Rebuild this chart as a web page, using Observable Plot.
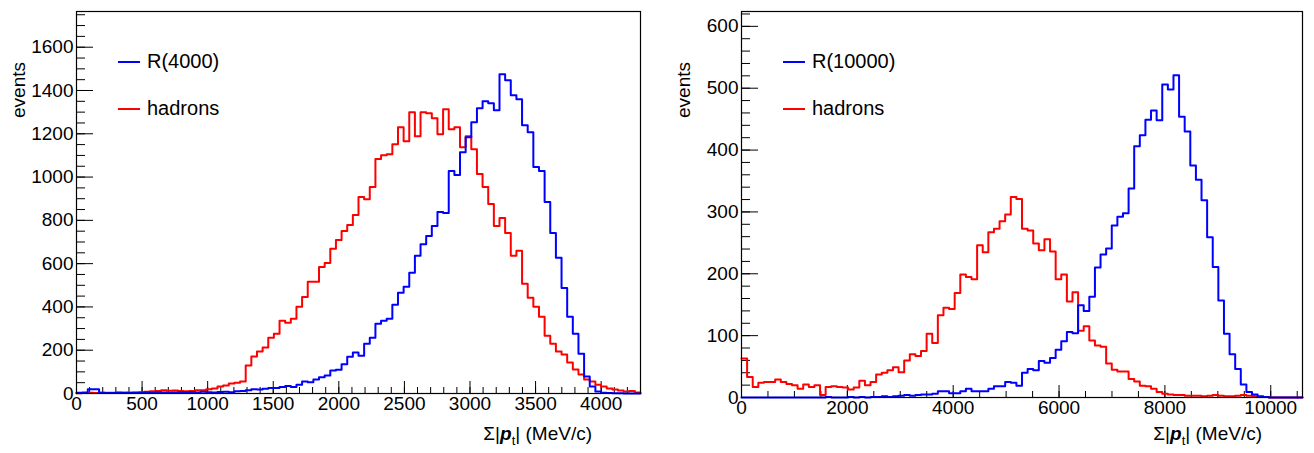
<!DOCTYPE html>
<html>
<head>
<meta charset="utf-8">
<script src="https://cdn.jsdelivr.net/npm/d3@7"></script>
<script src="https://cdn.jsdelivr.net/npm/@observablehq/plot@0.6"></script>
<style>
  body { margin: 0; background: #fff; font-family: "Liberation Sans", Arial, sans-serif; }
  #wrap { position: relative; width: 1314px; height: 453px; }
  .panel { position: absolute; top: 0; }
  .lab { position: absolute; font-size: 20px; color: #000; white-space: nowrap; }
  .leg { position: absolute; height: 2px; width: 22px; }
  .ylab { position: absolute; font-size: 19px; transform: rotate(-90deg); transform-origin: right top; white-space: nowrap; }
</style>
</head>
<body>
<div id="wrap"></div>
<script>
// left panel: 100 bins, 0..4300 MeV/c
const leftEdges = [0, 4300];
const leftR4000 = [3,5,20,20,3,2,2,3,3,2,4,3,5,4,6,5,4,5,6,6,7,5,8,6,5,7,8,6,10,12,
  15,20,18,22,25,25,30,35,30,40,55,52,65,75,83,106,110,135,
  170,189,175,230,258,322,336,345,410,465,493,558,636,690,728,774,839,834,1028,1009,1115,1184,1253,1318,1350,1341,1309,1475,1447,1378,1359,1240,1207,1046,1028,885,742,627,488,355,276,184,78,32,9,
  3,2,1,1,0,0,0];
const leftHadrons = [1,2,3,2,3,3,4,5,4,5,5,6,8,10,12,15,13,14,12,10,12,15,15,20,23,32,37,46,50,55,
  129,171,194,212,258,276,336,327,345,401,446,516,516,585,603,669,709,
  751,779,825,908,898,954,1083,1101,1106,1152,1230,1166,1300,1189,1300,1295,1272,1198,1313,1221,1230,1138,1189,1129,1014,954,876,774,811,742,636,659,507,442,401,355,267,230,194,180,143,111,88,65,55,41,32,23,18,14,9,12,5];

// right panel: 100 bins, 0..10600 MeV/c
const rightEdges = [0, 10600];
const rightR10000 = [0,0,0,0,0,0,0,0,0,0,0,0,0,0,0,1,0,0,0,1,0,1,0,1,1,2,1,2,3,
  4,3,4,5,5,6,10,10,7,7,10,14,10,10,10,14,18,
  18,25,24,19,40,46,44,59,56,64,77,91,106,104,149,140,163,210,231,241,278,292,298,338,406,424,449,464,448,506,498,521,454,430,375,352,319,259,211,157,103,70,46,21,9,5,2,
  1,0,0,0,0,0,0];
const rightHadrons = [63,33,17,24,25,25,29,25,22,20,14,21,17,20,4,17,18,17,16,13,16,27,20,25,37,40,44,49,41,60,70,67,75,103,88,133,145,143,169,199,195,191,246,235,267,273,285,296,324,321,273,
  270,249,238,256,236,191,199,155,170,108,115,92,84,82,55,45,42,42,30,26,19,18,14,9,6,
  5,4,4,3,3,3,2,3,4,3,2,2,3,4,3,2,1,1,0,0,0,0,0,0];

function steps(vals, lo, hi) {
  const w = (hi - lo) / vals.length;
  const pts = vals.map((v, i) => ({x: lo + i * w, y: v}));
  pts.push({x: hi, y: vals[vals.length - 1]});
  return pts;
}

function panel(o) {
  const [lo, hi] = o.edges;
  const none = () => "";
  return Plot.plot({
    width: o.width, height: 453,
    marginLeft: o.ml, marginRight: o.mr, marginTop: 11, marginBottom: o.mb,
    style: {fontFamily: "Liberation Sans, Arial, sans-serif", fontSize: "18px", color: "#000"},
    x: {domain: [lo, hi]},
    y: {domain: [0, o.ymax]},
    marks: [
      Plot.axisX({ticks: d3.range(lo, hi + 1, o.xminor), tickSize: -6, tickFormat: none, label: null}),
      Plot.axisX({ticks: d3.range(lo, hi + 1, o.xmajor), tickSize: -12, tickPadding: 15, tickFormat: d3.format("d"), label: null, fontSize: 19}),
      Plot.axisY({ticks: d3.range(0, o.ymax + 1, o.yminor), tickSize: -9, tickFormat: none, label: null}),
      Plot.axisY({ticks: d3.range(0, o.ymax + 1, o.ymajor), tickSize: -17, tickPadding: 20, tickFormat: d3.format("d"), label: null, fontSize: 19}),
      Plot.line(steps(o.red, lo, hi), {x: "x", y: "y", curve: "step-after", stroke: "#ff0000", strokeWidth: 2}),
      Plot.line(steps(o.blue, lo, hi), {x: "x", y: "y", curve: "step-after", stroke: "#0000ff", strokeWidth: 2}),
      Plot.frame({stroke: "#000", strokeWidth: 1.2})
    ]
  });
}

const wrap = document.getElementById("wrap");
function place(node, left) {
  node.classList.add("panel");
  node.style.left = left + "px";
  wrap.appendChild(node);
}
place(panel({width: 657, ml: 76, mr: 17, mb: 60, edges: leftEdges, ymax: 1765,
  xmajor: 500, xminor: 100, ymajor: 200, yminor: 50, blue: leftR4000, red: leftHadrons}), 0);
place(panel({width: 657, ml: 84, mr: 12, mb: 56, edges: rightEdges, ymax: 624,
  xmajor: 2000, xminor: 500, ymajor: 100, yminor: 20, blue: rightR10000, red: rightHadrons}), 657);

function addHtml(html, cls, css) {
  const d = document.createElement("div");
  d.className = cls;
  d.innerHTML = html;
  Object.assign(d.style, css);
  wrap.appendChild(d);
}
const xl = 'Σ|<b><i>p</i></b><sub style="font-size:13px">t</sub>| (MeV/c)';
addHtml(xl, "lab", {right: (1314 - 592) + "px", top: "423px", fontSize: "19px"});
addHtml(xl, "lab", {right: (1314 - 1262) + "px", top: "423px", fontSize: "19px"});
addHtml("events", "ylab", {right: (1314 - 8) + "px", top: "62px"});
addHtml("events", "ylab", {right: (1314 - 673) + "px", top: "62px"});

[["R(4000)", "#0000ff", 118, 62], ["hadrons", "#ff0000", 118, 109],
 ["R(10000)", "#0000ff", 783, 62], ["hadrons", "#ff0000", 783, 109]].forEach(([t, c, x, y]) => {
  addHtml("", "leg", {left: x + "px", top: (y - 1) + "px", background: c});
  addHtml(t, "lab", {left: (x + 29) + "px", top: (y - 12) + "px"});
});
</script>
</body>
</html>
